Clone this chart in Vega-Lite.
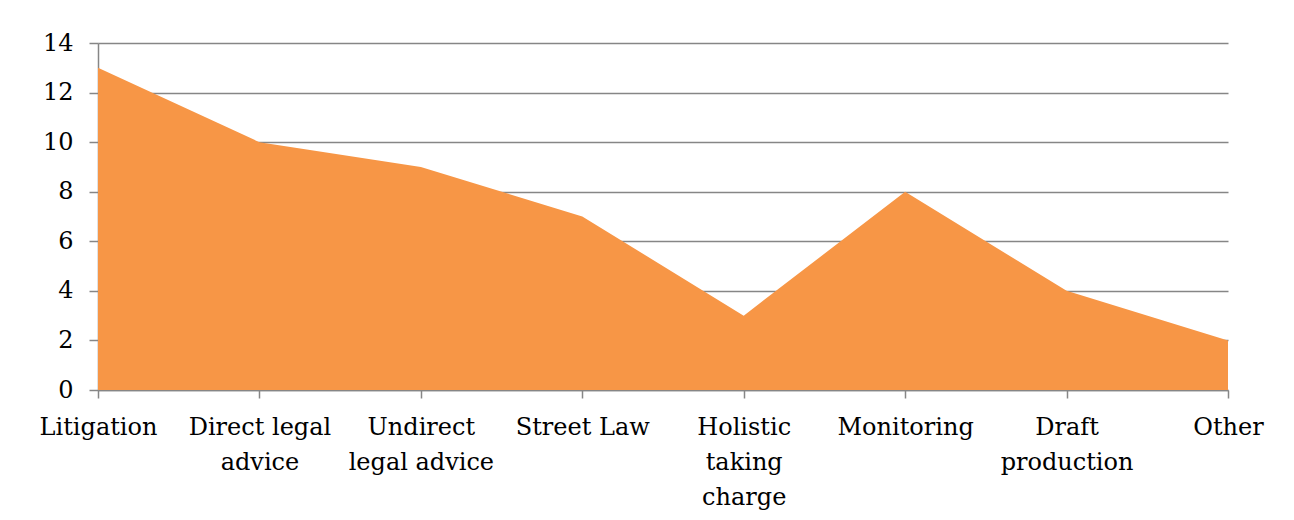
{
  "$schema": "https://vega.github.io/schema/vega-lite/v6.json",
  "autosize": "none",
  "width": 1130,
  "height": 347,
  "padding": {"left": 98, "top": 43, "right": 66, "bottom": 130},
  "background": "white",
  "data": {
    "values": [
      {"category": "Litigation", "value": 13},
      {"category": "Direct legal|advice", "value": 10},
      {"category": "Undirect|legal advice", "value": 9},
      {"category": "Street Law", "value": 7},
      {"category": "Holistic|taking|charge", "value": 3},
      {"category": "Monitoring", "value": 8},
      {"category": "Draft|production", "value": 4},
      {"category": "Other", "value": 2}
    ]
  },
  "mark": {"type": "area", "color": "#F79646", "opacity": 1, "line": false},
  "encoding": {
    "x": {
      "field": "category",
      "type": "ordinal",
      "sort": null,
      "scale": {"type": "point", "padding": 0},
      "axis": {
        "title": null,
        "labelAngle": 0,
        "labelExpr": "split(datum.value, '|')",
        "labelFont": "DejaVu Serif",
        "labelFontSize": 24,
        "labelColor": "#000000",
        "labelLineHeight": 35,
        "labelPadding": 17,
        "labelBaseline": "top",
        "labelAlign": "center",
        "labelOverlap": false,
        "domainColor": "#868686",
        "domainWidth": 1.5,
        "tickColor": "#868686",
        "tickSize": 8,
        "tickWidth": 1.5,
        "grid": false
      }
    },
    "y": {
      "field": "value",
      "type": "quantitative",
      "scale": {"domain": [0, 14], "nice": false},
      "axis": {
        "title": null,
        "values": [0, 2, 4, 6, 8, 10, 12, 14],
        "labelFont": "DejaVu Serif",
        "labelFontSize": 24,
        "labelColor": "#000000",
        "labelPadding": 16,
        "domainColor": "#868686",
        "domainWidth": 1.5,
        "tickColor": "#868686",
        "tickSize": 9,
        "tickWidth": 1.5,
        "grid": true,
        "gridColor": "#868686",
        "gridWidth": 1.5
      }
    }
  },
  "config": {"view": {"stroke": null}}
}
